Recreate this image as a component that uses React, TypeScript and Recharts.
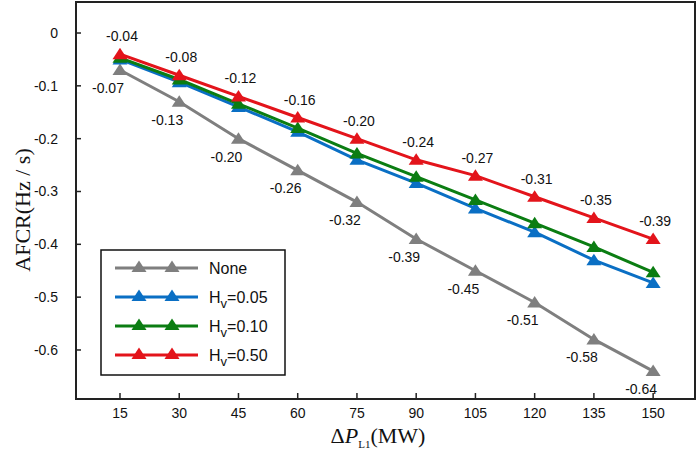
import React from 'react';
import { LineChart, Line, XAxis, YAxis, ReferenceArea, LabelList, Legend, Label } from 'recharts';

const loads = [15, 30, 45, 60, 75, 90, 105, 120, 135, 150];
const noneVals = [-0.07, -0.13, -0.2, -0.26, -0.32, -0.39, -0.45, -0.51, -0.58, -0.64];
const hv005 = [-0.05, -0.093, -0.14, -0.187, -0.24, -0.284, -0.332, -0.377, -0.43, -0.473];
const hv010 = [-0.047, -0.088, -0.134, -0.18, -0.228, -0.272, -0.316, -0.36, -0.405, -0.453];
const hv050 = [-0.04, -0.08, -0.12, -0.16, -0.2, -0.24, -0.27, -0.31, -0.35, -0.39];
const yTicks = [0, -0.1, -0.2, -0.3, -0.4, -0.5, -0.6];

const data = loads.map((p, i) => ({
    p,
    none: noneVals[i],
    h005: hv005[i],
    h010: hv010[i],
    h050: hv050[i],
}));

const series = [
    { key: 'none', name: 'None', color: '#7f7f7f' },
    { key: 'h005', name: '0.05', color: '#0a6fc4' },
    { key: 'h010', name: '0.10', color: '#0b7d12' },
    { key: 'h050', name: '0.50', color: '#e3141b' },
];

const sans = '"Liberation Sans", Arial, sans-serif';
const serif = '"Liberation Serif", "Times New Roman", serif';

const Triangle = ({ cx, cy, fill }: any) => {
    if (cx == null || cy == null) return null;
    return <polygon points={`${cx - 7.5},${cy + 5} ${cx + 7.5},${cy + 5} ${cx},${cy - 6.5}`} fill={fill} />;
};

const fmt = (v: number) => (v === 0 ? '0' : v.toFixed(2));

const makeLabel = (dx: number, dy: number) => (props: any) => {
    const { x, y, value } = props;
    return (
        <text x={x + dx} y={y + dy} textAnchor="middle" dominantBaseline="central" fontSize={14} fontFamily={sans} fill="#111">
            {fmt(value)}
        </text>
    );
};

const YTick = ({ x, y, payload }: any) => (
    <g>
        <line x1={x + 18} x2={x + 23} y1={y} y2={y} stroke="#222" strokeWidth={1.5} />
        <text x={x} y={y} textAnchor="end" dominantBaseline="central" fontSize={14} fontFamily={sans} fill="#111">
            {payload.value === 0 ? '0' : payload.value.toFixed(1)}
        </text>
    </g>
);

const XTick = ({ x, y, payload }: any) => (
    <g>
        <line x1={x} x2={x} y1={y - 9} y2={y - 14} stroke="#222" strokeWidth={1.5} />
        <text x={x} y={y + 6} textAnchor="middle" dominantBaseline="central" fontSize={14} fontFamily={sans} fill="#111">
            {payload.value}
        </text>
    </g>
);

const LegendBox = () => (
    <svg width={186} height={127}>
        <rect x={1} y={1} width={184} height={125} fill="#fff" stroke="#111" strokeWidth={1.5} />
        {series.map((s, i) => {
            const cy = 19 + i * 29;
            return (
                <g key={s.key}>
                    <line x1={15} x2={98} y1={cy} y2={cy} stroke={s.color} strokeWidth={3} />
                    <Triangle cx={39} cy={cy - 1} fill={s.color} />
                    <Triangle cx={72} cy={cy - 1} fill={s.color} />
                    <text x={109} y={cy} dominantBaseline="central" fontSize={16} fontFamily={sans} fill="#111">
                        {s.key === 'none' ? (
                            'None'
                        ) : (
                            <>
                                H<tspan fontSize={13} dy={6}>v</tspan>
                                <tspan dy={-6}>={s.name}</tspan>
                            </>
                        )}
                    </text>
                </g>
            );
        })}
    </svg>
);

const YTitle = () => {
    const cx = 22;
    const cy = 210;
    return (
        <text x={cx} y={cy} transform={`rotate(-90 ${cx} ${cy})`} textAnchor="middle" dominantBaseline="central" fontSize={22} fontFamily={serif} fill="#111">
            AFCR(Hz / s)
        </text>
    );
};

const XTitle = () => (
    <text x={378} y={443} textAnchor="middle" fontSize={22} fontFamily={serif} fill="#111">
        Δ<tspan fontStyle="italic">P</tspan>
        <tspan fontSize={11} dy={5}>L1</tspan>
        <tspan dy={-5}>(MW)</tspan>
    </text>
);

export default function App() {
    return (
        <div style={{ position: 'absolute', left: 0, top: 0, width: 699, height: 458, background: '#fff' }}>
            <LineChart width={699} height={458} data={data} margin={{ top: 2, right: 4, bottom: 0, left: 0 }}>
                <XAxis
                    dataKey="p"
                    type="number"
                    domain={[3.86, 160.6]}
                    ticks={loads}
                    height={59}
                    tickSize={0}
                    tickMargin={8}
                    axisLine={false}
                    tickLine={false}
                    tick={<XTick />}
                    interval={0}
                >
                    <Label content={<XTitle />} />
                </XAxis>
                <YAxis
                    type="number"
                    domain={[-0.6928, 0.0587]}
                    ticks={yTicks}
                    width={76}
                    tickSize={0}
                    tickMargin={18}
                    axisLine={false}
                    tickLine={false}
                    tick={<YTick />}
                    interval={0}
                    allowDataOverflow
                >
                    <Label content={<YTitle />} />
                </YAxis>
                <ReferenceArea x1={3.86} x2={160.6} y1={-0.6928} y2={0.0587} fill="none" stroke="#222" strokeWidth={2} ifOverflow="visible" />
                {series.map((s) => (
                    <Line
                        key={s.key}
                        dataKey={s.key}
                        name={s.name}
                        stroke={s.color}
                        strokeWidth={3}
                        dot={<Triangle fill={s.color} />}
                        activeDot={false}
                        isAnimationActive={false}
                    >
                        {s.key === 'none' && <LabelList dataKey="none" content={makeLabel(-12, 18)} />}
                        {s.key === 'h050' && <LabelList dataKey="h050" content={makeLabel(2, -18)} />}
                    </Line>
                ))}
                <Legend
                    layout="horizontal"
                    verticalAlign="middle"
                    align="center"
                    content={<LegendBox />}
                    wrapperStyle={{ left: 100, top: 249, width: 186, height: 127 }}
                />
            </LineChart>
        </div>
    );
}
